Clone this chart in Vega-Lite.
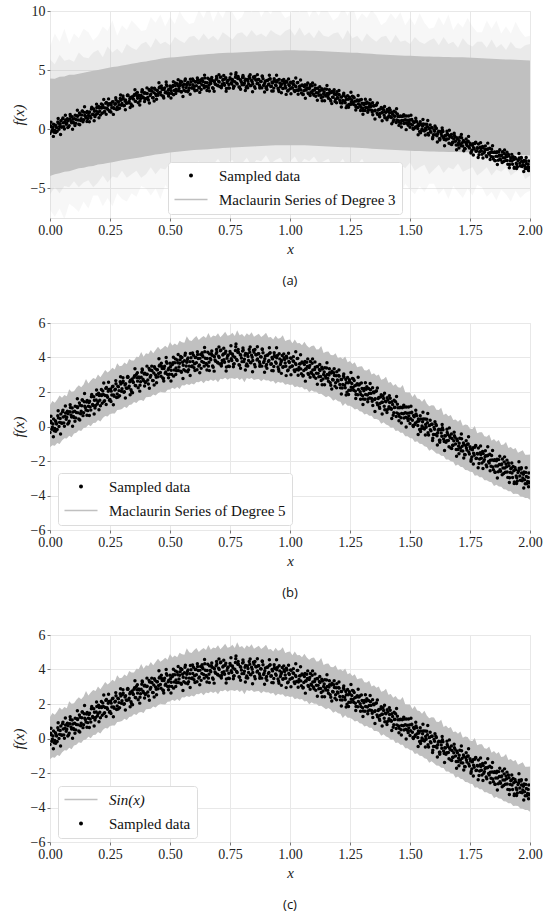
{
  "$schema": "https://vega.github.io/schema/vega-lite/v6.json",
  "background": "white",
  "padding": {"left": 10, "top": 3, "right": 10, "bottom": 5},
  "spacing": 26,
  "config": {
    "font": "Liberation Serif",
    "view": {"stroke": "#e3e3e3"},
    "style": {
      "guide-label": {"font": "Liberation Serif"},
      "guide-title": {"font": "Liberation Serif"}
    },
    "axis": {
      "gridColor": "#e8e8e8", "domain": false, "tickColor": "#777", "tickSize": 3,
      "labelFont": "Liberation Serif", "labelFontSize": 14, "labelColor": "#222",
      "labelFlush": false,
      "titleFont": "Liberation Serif", "titleFontSize": 15, "titleFontStyle": "italic",
      "titleFontWeight": "normal", "titleColor": "#222"
    },
    "title": {"font": "Open Sans", "fontSize": 13, "fontWeight": "normal", "orient": "bottom", "offset": 19, "color": "#111"},
    "legend": {
      "orient": "none", "fillColor": "white", "strokeColor": "#dcdcdc", "cornerRadius": 3,
      "padding": 6, "labelFont": "Liberation Serif", "labelFontSize": 15, "labelColor": "#111",
      "labelLimit": 400, "rowPadding": 8, "labelOffset": 20.5, "symbolOffset": 9.5,
      "symbolSize": 16, "symbolStrokeWidth": 0, "title": null
    }
  },
  "datasets": {
    "pts": [
      {"x":0.000,"y":-0.35},{"x":0.005,"y":0.22},{"x":0.010,"y":-0.04},{"x":0.015,"y":0.43},{"x":0.020,"y":-0.11},
      {"x":0.025,"y":0.25},{"x":0.030,"y":-0.17},{"x":0.035,"y":0.50},{"x":0.040,"y":0.24},{"x":0.045,"y":0.73},
      {"x":0.050,"y":0.19},{"x":0.055,"y":0.55},{"x":0.060,"y":0.02},{"x":0.065,"y":0.78},{"x":0.070,"y":0.53},
      {"x":0.075,"y":0.74},{"x":0.080,"y":0.31},{"x":0.085,"y":1.10},{"x":0.090,"y":0.55},{"x":0.095,"y":0.84},
      {"x":0.100,"y":0.52},{"x":0.105,"y":1.18},{"x":0.110,"y":0.81},{"x":0.115,"y":1.10},{"x":0.120,"y":0.43},
      {"x":0.125,"y":1.23},{"x":0.130,"y":0.89},{"x":0.135,"y":1.54},{"x":0.140,"y":0.80},{"x":0.145,"y":1.17},
      {"x":0.150,"y":0.96},{"x":0.155,"y":1.51},{"x":0.160,"y":1.17},{"x":0.165,"y":1.46},{"x":0.170,"y":0.95},
      {"x":0.175,"y":1.77},{"x":0.180,"y":1.22},{"x":0.185,"y":1.52},{"x":0.190,"y":1.22},{"x":0.195,"y":1.85},
      {"x":0.200,"y":1.44},{"x":0.205,"y":1.80},{"x":0.210,"y":1.20},{"x":0.215,"y":1.80},{"x":0.220,"y":2.06},
      {"x":0.225,"y":1.45},{"x":0.230,"y":1.80},{"x":0.235,"y":2.26},{"x":0.240,"y":1.70},{"x":0.245,"y":2.15},
      {"x":0.250,"y":1.56},{"x":0.255,"y":2.05},{"x":0.260,"y":2.30},{"x":0.265,"y":1.82},{"x":0.270,"y":2.11},
      {"x":0.275,"y":2.48},{"x":0.280,"y":1.89},{"x":0.285,"y":2.31},{"x":0.290,"y":1.78},{"x":0.295,"y":2.46},
      {"x":0.300,"y":2.19},{"x":0.305,"y":2.63},{"x":0.310,"y":2.02},{"x":0.315,"y":2.48},{"x":0.320,"y":2.21},
      {"x":0.325,"y":2.86},{"x":0.330,"y":2.34},{"x":0.335,"y":2.68},{"x":0.340,"y":2.02},{"x":0.345,"y":2.61},
      {"x":0.350,"y":2.86},{"x":0.355,"y":2.38},{"x":0.360,"y":3.02},{"x":0.365,"y":2.63},{"x":0.370,"y":2.87},
      {"x":0.375,"y":2.39},{"x":0.380,"y":2.85},{"x":0.385,"y":3.28},{"x":0.390,"y":2.65},{"x":0.395,"y":3.09},
      {"x":0.400,"y":2.60},{"x":0.405,"y":3.03},{"x":0.410,"y":2.47},{"x":0.415,"y":3.27},{"x":0.420,"y":2.96},
      {"x":0.425,"y":3.23},{"x":0.430,"y":2.66},{"x":0.435,"y":3.47},{"x":0.440,"y":2.98},{"x":0.445,"y":3.29},
      {"x":0.450,"y":2.88},{"x":0.455,"y":3.51},{"x":0.460,"y":3.13},{"x":0.465,"y":3.48},{"x":0.470,"y":2.81},
      {"x":0.475,"y":3.36},{"x":0.480,"y":3.09},{"x":0.485,"y":3.76},{"x":0.490,"y":3.02},{"x":0.495,"y":3.38},
      {"x":0.500,"y":3.67},{"x":0.505,"y":3.26},{"x":0.510,"y":3.60},{"x":0.515,"y":2.92},{"x":0.520,"y":3.69},
      {"x":0.525,"y":3.39},{"x":0.530,"y":3.86},{"x":0.535,"y":3.25},{"x":0.540,"y":3.67},{"x":0.545,"y":3.20},
      {"x":0.550,"y":4.00},{"x":0.555,"y":3.55},{"x":0.560,"y":3.81},{"x":0.565,"y":3.22},{"x":0.570,"y":3.72},
      {"x":0.575,"y":3.97},{"x":0.580,"y":3.50},{"x":0.585,"y":4.23},{"x":0.590,"y":3.48},{"x":0.595,"y":3.77},
      {"x":0.600,"y":3.40},{"x":0.605,"y":4.00},{"x":0.610,"y":3.69},{"x":0.615,"y":4.17},{"x":0.620,"y":3.50},
      {"x":0.625,"y":3.95},{"x":0.630,"y":3.37},{"x":0.635,"y":4.11},{"x":0.640,"y":3.71},{"x":0.645,"y":4.33},
      {"x":0.650,"y":3.65},{"x":0.655,"y":3.94},{"x":0.660,"y":3.50},{"x":0.665,"y":4.21},{"x":0.670,"y":3.87},
      {"x":0.675,"y":4.13},{"x":0.680,"y":3.44},{"x":0.685,"y":4.04},{"x":0.690,"y":3.78},{"x":0.695,"y":4.31},
      {"x":0.700,"y":3.68},{"x":0.705,"y":4.00},{"x":0.710,"y":4.39},{"x":0.715,"y":3.65},{"x":0.720,"y":4.15},
      {"x":0.725,"y":3.87},{"x":0.730,"y":4.25},{"x":0.735,"y":3.45},{"x":0.740,"y":4.09},{"x":0.745,"y":3.78},
      {"x":0.750,"y":4.35},{"x":0.755,"y":3.93},{"x":0.760,"y":4.20},{"x":0.765,"y":3.61},{"x":0.770,"y":4.02},
      {"x":0.775,"y":4.78},{"x":0.780,"y":3.82},{"x":0.785,"y":4.31},{"x":0.790,"y":3.55},{"x":0.795,"y":4.13},
      {"x":0.800,"y":3.76},{"x":0.805,"y":4.42},{"x":0.810,"y":3.90},{"x":0.815,"y":4.24},{"x":0.820,"y":3.63},
      {"x":0.825,"y":4.06},{"x":0.830,"y":4.46},{"x":0.835,"y":3.71},{"x":0.840,"y":4.13},{"x":0.845,"y":3.83},
      {"x":0.850,"y":4.31},{"x":0.855,"y":3.46},{"x":0.860,"y":4.16},{"x":0.865,"y":3.91},{"x":0.870,"y":4.22},
      {"x":0.875,"y":3.62},{"x":0.880,"y":4.03},{"x":0.885,"y":4.46},{"x":0.890,"y":3.71},{"x":0.895,"y":3.93},
      {"x":0.900,"y":3.49},{"x":0.905,"y":4.13},{"x":0.910,"y":3.77},{"x":0.915,"y":4.24},{"x":0.920,"y":3.61},
      {"x":0.925,"y":4.00},{"x":0.930,"y":3.23},{"x":0.935,"y":4.12},{"x":0.940,"y":3.74},{"x":0.945,"y":3.99},
      {"x":0.950,"y":3.45},{"x":0.955,"y":4.22},{"x":0.960,"y":3.60},{"x":0.965,"y":3.82},{"x":0.970,"y":3.44},
      {"x":0.975,"y":3.98},{"x":0.980,"y":3.68},{"x":0.985,"y":4.07},{"x":0.990,"y":3.23},{"x":0.995,"y":3.77},
      {"x":1.000,"y":3.43},{"x":1.005,"y":3.95},{"x":1.010,"y":3.51},{"x":1.015,"y":3.78},{"x":1.020,"y":3.19},
      {"x":1.025,"y":3.60},{"x":1.030,"y":3.94},{"x":1.035,"y":3.28},{"x":1.040,"y":3.63},{"x":1.045,"y":3.34},
      {"x":1.050,"y":3.74},{"x":1.055,"y":2.96},{"x":1.060,"y":3.59},{"x":1.065,"y":3.34},{"x":1.070,"y":3.73},
      {"x":1.075,"y":3.07},{"x":1.080,"y":3.42},{"x":1.085,"y":3.77},{"x":1.090,"y":3.09},{"x":1.095,"y":3.28},
      {"x":1.100,"y":2.88},{"x":1.105,"y":3.44},{"x":1.110,"y":3.09},{"x":1.115,"y":3.48},{"x":1.120,"y":2.88},
      {"x":1.125,"y":3.24},{"x":1.130,"y":2.67},{"x":1.135,"y":3.33},{"x":1.140,"y":3.01},{"x":1.145,"y":3.41},
      {"x":1.150,"y":2.81},{"x":1.155,"y":3.02},{"x":1.160,"y":2.62},{"x":1.165,"y":3.11},{"x":1.170,"y":2.39},
      {"x":1.175,"y":3.20},{"x":1.180,"y":2.70},{"x":1.185,"y":2.96},{"x":1.190,"y":2.54},{"x":1.195,"y":3.17},
      {"x":1.200,"y":2.63},{"x":1.205,"y":2.92},{"x":1.210,"y":2.24},{"x":1.215,"y":2.72},{"x":1.220,"y":2.43},
      {"x":1.225,"y":2.85},{"x":1.230,"y":2.25},{"x":1.235,"y":2.53},{"x":1.240,"y":2.84},{"x":1.245,"y":2.10},
      {"x":1.250,"y":2.58},{"x":1.255,"y":2.28},{"x":1.260,"y":2.79},{"x":1.265,"y":2.10},{"x":1.270,"y":2.36},
      {"x":1.275,"y":1.86},{"x":1.280,"y":2.48},{"x":1.285,"y":2.14},{"x":1.290,"y":2.47},{"x":1.295,"y":1.86},
      {"x":1.300,"y":2.20},{"x":1.305,"y":1.59},{"x":1.310,"y":2.21},{"x":1.315,"y":1.85},{"x":1.320,"y":2.31},
      {"x":1.325,"y":1.60},{"x":1.330,"y":1.92},{"x":1.335,"y":2.13},{"x":1.340,"y":1.62},{"x":1.345,"y":1.22},
      {"x":1.350,"y":1.96},{"x":1.355,"y":1.61},{"x":1.360,"y":2.06},{"x":1.365,"y":1.26},{"x":1.370,"y":1.68},
      {"x":1.375,"y":1.34},{"x":1.380,"y":1.84},{"x":1.385,"y":1.41},{"x":1.390,"y":1.62},{"x":1.395,"y":0.97},
      {"x":1.400,"y":1.43},{"x":1.405,"y":1.67},{"x":1.410,"y":1.01},{"x":1.415,"y":1.39},{"x":1.420,"y":1.06},
      {"x":1.425,"y":1.44},{"x":1.430,"y":0.65},{"x":1.435,"y":1.10},{"x":1.440,"y":1.43},{"x":1.445,"y":0.79},
      {"x":1.450,"y":1.09},{"x":1.455,"y":0.60},{"x":1.460,"y":1.12},{"x":1.465,"y":0.75},{"x":1.470,"y":1.13},
      {"x":1.475,"y":0.49},{"x":1.480,"y":0.80},{"x":1.485,"y":1.13},{"x":1.490,"y":0.46},{"x":1.495,"y":0.61},
      {"x":1.500,"y":0.18},{"x":1.505,"y":0.79},{"x":1.510,"y":0.36},{"x":1.515,"y":0.64},{"x":1.520,"y":0.11},
      {"x":1.525,"y":0.73},{"x":1.530,"y":0.28},{"x":1.535,"y":0.44},{"x":1.540,"y":-0.18},{"x":1.545,"y":0.43},
      {"x":1.550,"y":0.03},{"x":1.555,"y":0.44},{"x":1.560,"y":-0.15},{"x":1.565,"y":0.11},{"x":1.570,"y":0.42},
      {"x":1.575,"y":-0.36},{"x":1.580,"y":0.05},{"x":1.585,"y":-0.19},{"x":1.590,"y":0.13},{"x":1.595,"y":-0.68},
      {"x":1.600,"y":-0.05},{"x":1.605,"y":-0.47},{"x":1.610,"y":0.06},{"x":1.615,"y":-0.38},{"x":1.620,"y":-0.16},
      {"x":1.625,"y":-0.79},{"x":1.630,"y":-0.37},{"x":1.635,"y":-0.07},{"x":1.640,"y":-0.72},{"x":1.645,"y":-0.54},
      {"x":1.650,"y":-0.91},{"x":1.655,"y":-0.35},{"x":1.660,"y":-0.81},{"x":1.665,"y":-0.55},{"x":1.670,"y":-1.24},
      {"x":1.675,"y":-0.69},{"x":1.680,"y":-1.09},{"x":1.685,"y":-0.53},{"x":1.690,"y":-1.01},{"x":1.695,"y":-0.72},
      {"x":1.700,"y":-1.33},{"x":1.705,"y":-0.97},{"x":1.710,"y":-1.24},{"x":1.715,"y":-0.71},{"x":1.720,"y":-1.42},
      {"x":1.725,"y":-1.04},{"x":1.730,"y":-1.64},{"x":1.735,"y":-1.25},{"x":1.740,"y":-1.03},{"x":1.745,"y":-1.48},
      {"x":1.750,"y":-1.18},{"x":1.755,"y":-1.91},{"x":1.760,"y":-1.35},{"x":1.765,"y":-1.55},{"x":1.770,"y":-1.20},
      {"x":1.775,"y":-1.85},{"x":1.780,"y":-1.56},{"x":1.785,"y":-1.25},{"x":1.790,"y":-1.89},{"x":1.795,"y":-1.62},
      {"x":1.800,"y":-2.12},{"x":1.805,"y":-1.57},{"x":1.810,"y":-1.92},{"x":1.815,"y":-1.70},{"x":1.820,"y":-2.33},
      {"x":1.825,"y":-1.66},{"x":1.830,"y":-2.11},{"x":1.835,"y":-1.96},{"x":1.840,"y":-1.68},{"x":1.845,"y":-2.35},
      {"x":1.850,"y":-1.97},{"x":1.855,"y":-2.65},{"x":1.860,"y":-1.98},{"x":1.865,"y":-2.29},{"x":1.870,"y":-1.92},
      {"x":1.875,"y":-2.50},{"x":1.880,"y":-2.22},{"x":1.885,"y":-1.89},{"x":1.890,"y":-2.72},{"x":1.895,"y":-2.40},
      {"x":1.900,"y":-2.18},{"x":1.905,"y":-2.64},{"x":1.910,"y":-2.12},{"x":1.915,"y":-2.97},{"x":1.920,"y":-2.45},
      {"x":1.925,"y":-2.69},{"x":1.930,"y":-2.32},{"x":1.935,"y":-3.21},{"x":1.940,"y":-2.50},{"x":1.945,"y":-2.97},
      {"x":1.950,"y":-2.67},{"x":1.955,"y":-2.42},{"x":1.960,"y":-3.11},{"x":1.965,"y":-2.70},{"x":1.970,"y":-2.99},
      {"x":1.975,"y":-2.64},{"x":1.980,"y":-3.32},{"x":1.985,"y":-2.90},{"x":1.990,"y":-3.19},{"x":1.995,"y":-2.69},
      {"x":2.000,"y":-3.21},
      {"x":0.0025,"y":0.30},{"x":0.0075,"y":-0.16},{"x":0.0125,"y":0.15},{"x":0.0175,"y":-0.25},{"x":0.0225,"y":0.34},
      {"x":0.0275,"y":0.14},{"x":0.0325,"y":0.62},{"x":0.0375,"y":0.00},{"x":0.0425,"y":0.46},{"x":0.0475,"y":0.20},
      {"x":0.0525,"y":0.86},{"x":0.0575,"y":0.21},{"x":0.0625,"y":0.59},{"x":0.0675,"y":0.42},{"x":0.0725,"y":0.89},
      {"x":0.0775,"y":0.21},{"x":0.0825,"y":0.86},{"x":0.0875,"y":0.67},{"x":0.0925,"y":1.07},{"x":0.0975,"y":0.58},
      {"x":0.1025,"y":0.89},{"x":0.1075,"y":0.50},{"x":0.1125,"y":1.15},{"x":0.1175,"y":0.79},{"x":0.1225,"y":1.37},
      {"x":0.1275,"y":0.74},{"x":0.1325,"y":1.20},{"x":0.1375,"y":0.63},{"x":0.1425,"y":1.43},{"x":0.1475,"y":1.10},
      {"x":0.1525,"y":1.42},{"x":0.1575,"y":0.92},{"x":0.1625,"y":1.39},{"x":0.1675,"y":1.13},{"x":0.1725,"y":1.72},
      {"x":0.1775,"y":1.27},{"x":0.1825,"y":1.72},{"x":0.1875,"y":1.07},{"x":0.1925,"y":1.54},{"x":0.1975,"y":1.31},
      {"x":0.2025,"y":1.93},{"x":0.2075,"y":1.52},{"x":0.2125,"y":1.84},{"x":0.2175,"y":1.35},{"x":0.2225,"y":1.85},
      {"x":0.2275,"y":1.50},{"x":0.2325,"y":2.21},{"x":0.2375,"y":1.78},{"x":0.2425,"y":2.04},{"x":0.2475,"y":1.52},
      {"x":0.2525,"y":2.18},{"x":0.2575,"y":1.82},{"x":0.2625,"y":2.33},{"x":0.2675,"y":1.75},{"x":0.2725,"y":2.16},
      {"x":0.2775,"y":1.68},{"x":0.2825,"y":2.33},{"x":0.2875,"y":2.08},{"x":0.2925,"y":2.60},{"x":0.2975,"y":2.04},
      {"x":0.3025,"y":2.55},{"x":0.3075,"y":1.98},{"x":0.3125,"y":2.40},{"x":0.3175,"y":2.24},{"x":0.3225,"y":2.86},
      {"x":0.3275,"y":2.25},{"x":0.3325,"y":2.59},{"x":0.3375,"y":2.13},{"x":0.3425,"y":2.76},{"x":0.3475,"y":2.55},
      {"x":0.3525,"y":2.94},{"x":0.3575,"y":2.36},{"x":0.3625,"y":2.82},{"x":0.3675,"y":2.25},{"x":0.3725,"y":2.81},
      {"x":0.3775,"y":2.60},{"x":0.3825,"y":3.15},{"x":0.3875,"y":2.74},{"x":0.3925,"y":3.04},{"x":0.3975,"y":2.55},
      {"x":0.4025,"y":3.02},{"x":0.4075,"y":2.69},{"x":0.4125,"y":3.37},{"x":0.4175,"y":2.86},{"x":0.4225,"y":3.26},
      {"x":0.4275,"y":2.67},{"x":0.4325,"y":3.10},{"x":0.4375,"y":3.38},{"x":0.4425,"y":2.86},{"x":0.4475,"y":3.29},
      {"x":0.4525,"y":3.07},{"x":0.4575,"y":3.57},{"x":0.4625,"y":2.91},{"x":0.4675,"y":3.36},{"x":0.4725,"y":2.78},
      {"x":0.4775,"y":3.49},{"x":0.4825,"y":3.16},{"x":0.4875,"y":3.66},{"x":0.4925,"y":3.29},{"x":0.4975,"y":3.03},
      {"x":0.5025,"y":3.48},{"x":0.5075,"y":3.02},{"x":0.5125,"y":3.70},{"x":0.5175,"y":3.27},{"x":0.5225,"y":3.92},
      {"x":0.5275,"y":3.23},{"x":0.5325,"y":3.69},{"x":0.5375,"y":3.45},{"x":0.5425,"y":3.87},{"x":0.5475,"y":3.15},
      {"x":0.5525,"y":3.73},{"x":0.5575,"y":3.29},{"x":0.5625,"y":4.13},{"x":0.5675,"y":3.51},{"x":0.5725,"y":3.88},
      {"x":0.5775,"y":3.29},{"x":0.5825,"y":3.76},{"x":0.5875,"y":3.99},{"x":0.5925,"y":3.51},{"x":0.5975,"y":4.13},
      {"x":0.6025,"y":3.64},{"x":0.6075,"y":4.02},{"x":0.6125,"y":3.29},{"x":0.6175,"y":3.94},{"x":0.6225,"y":3.56},
      {"x":0.6275,"y":4.17},{"x":0.6325,"y":3.77},{"x":0.6375,"y":4.04},{"x":0.6425,"y":3.50},{"x":0.6475,"y":3.96},
      {"x":0.6525,"y":3.59},{"x":0.6575,"y":4.31},{"x":0.6625,"y":3.73},{"x":0.6675,"y":3.95},{"x":0.6725,"y":4.22},
      {"x":0.6775,"y":3.51},{"x":0.6825,"y":4.09},{"x":0.6875,"y":3.85},{"x":0.6925,"y":4.22},{"x":0.6975,"y":3.73},
      {"x":0.7025,"y":4.07},{"x":0.7075,"y":3.62},{"x":0.7125,"y":4.43},{"x":0.7175,"y":3.83},{"x":0.7225,"y":4.20},
      {"x":0.7275,"y":3.72},{"x":0.7325,"y":4.36},{"x":0.7375,"y":3.95},{"x":0.7425,"y":4.15},{"x":0.7475,"y":3.48},
      {"x":0.7525,"y":4.24},{"x":0.7575,"y":3.82},{"x":0.7625,"y":4.09},{"x":0.7675,"y":3.64},{"x":0.7725,"y":4.40},
      {"x":0.7775,"y":3.89},{"x":0.7825,"y":4.30},{"x":0.7875,"y":3.58},{"x":0.7925,"y":4.18},{"x":0.7975,"y":3.97},
      {"x":0.8025,"y":4.37},{"x":0.8075,"y":3.76},{"x":0.8125,"y":4.13},{"x":0.8175,"y":3.52},{"x":0.8225,"y":4.21},
      {"x":0.8275,"y":3.83},{"x":0.8325,"y":4.31},{"x":0.8375,"y":3.69},{"x":0.8425,"y":4.02},{"x":0.8475,"y":4.42},
      {"x":0.8525,"y":3.59},{"x":0.8575,"y":4.16},{"x":0.8625,"y":3.86},{"x":0.8675,"y":4.22},{"x":0.8725,"y":3.75},
      {"x":0.8775,"y":4.05},{"x":0.8825,"y":3.50},{"x":0.8875,"y":4.27},{"x":0.8925,"y":3.79},{"x":0.8975,"y":4.09},
      {"x":0.9025,"y":3.60},{"x":0.9075,"y":4.15},{"x":0.9125,"y":3.82},{"x":0.9175,"y":4.28},{"x":0.9225,"y":3.64},
      {"x":0.9275,"y":3.92},{"x":0.9325,"y":3.48},{"x":0.9375,"y":4.05},{"x":0.9425,"y":3.67},{"x":0.9475,"y":4.12},
      {"x":0.9525,"y":3.32},{"x":0.9575,"y":3.92},{"x":0.9625,"y":3.73},{"x":0.9675,"y":4.12},{"x":0.9725,"y":3.46},
      {"x":0.9775,"y":3.88},{"x":0.9825,"y":3.49},{"x":0.9875,"y":3.97},{"x":0.9925,"y":3.27},{"x":0.9975,"y":3.71},
      {"x":1.0025,"y":3.97},{"x":1.0075,"y":3.49},{"x":1.0125,"y":3.80},{"x":1.0175,"y":3.27},{"x":1.0225,"y":3.66},
      {"x":1.0275,"y":3.30},{"x":1.0325,"y":3.95},{"x":1.0375,"y":3.42},{"x":1.0425,"y":3.64},{"x":1.0475,"y":3.06},
      {"x":1.0525,"y":3.70},{"x":1.0575,"y":3.25},{"x":1.0625,"y":3.77},{"x":1.0675,"y":3.33},{"x":1.0725,"y":3.48},
      {"x":1.0775,"y":3.01},{"x":1.0825,"y":3.54},{"x":1.0875,"y":3.15},{"x":1.0925,"y":3.67},{"x":1.0975,"y":2.99},
      {"x":1.1025,"y":3.31},{"x":1.1075,"y":2.79},{"x":1.1125,"y":3.46},{"x":1.1175,"y":3.08},{"x":1.1225,"y":3.31},
      {"x":1.1275,"y":2.90},{"x":1.1325,"y":3.43},{"x":1.1375,"y":2.75},{"x":1.1425,"y":3.16},{"x":1.1475,"y":2.91},
      {"x":1.1525,"y":3.39},{"x":1.1575,"y":2.79},{"x":1.1625,"y":2.99},{"x":1.1675,"y":2.53},{"x":1.1725,"y":3.10},
      {"x":1.1775,"y":2.72},{"x":1.1825,"y":3.12},{"x":1.1875,"y":2.34},{"x":1.1925,"y":2.94},{"x":1.1975,"y":2.69},
      {"x":1.2025,"y":2.96},{"x":1.2075,"y":2.43},{"x":1.2125,"y":2.73},{"x":1.2175,"y":2.23},{"x":1.2225,"y":2.93},
      {"x":1.2275,"y":2.39},{"x":1.2325,"y":2.72},{"x":1.2375,"y":1.99},{"x":1.2425,"y":2.53},{"x":1.2475,"y":2.71},
      {"x":1.2525,"y":2.10},{"x":1.2575,"y":2.49},{"x":1.2625,"y":2.26},{"x":1.2675,"y":2.67},{"x":1.2725,"y":2.04},
      {"x":1.2775,"y":2.40},{"x":1.2825,"y":1.84},{"x":1.2875,"y":2.40},{"x":1.2925,"y":2.01},{"x":1.2975,"y":2.52},
      {"x":1.3025,"y":1.78},{"x":1.3075,"y":2.07},{"x":1.3125,"y":1.58},{"x":1.3175,"y":2.16},{"x":1.3225,"y":1.83},
      {"x":1.3275,"y":2.20},{"x":1.3325,"y":1.65},{"x":1.3375,"y":1.92},{"x":1.3425,"y":1.46},{"x":1.3475,"y":2.00},
      {"x":1.3525,"y":1.56},{"x":1.3575,"y":2.04},{"x":1.3625,"y":1.37},{"x":1.3675,"y":1.62},{"x":1.3725,"y":1.13},
      {"x":1.3775,"y":1.71},{"x":1.3825,"y":1.40},{"x":1.3875,"y":1.78},{"x":1.3925,"y":1.18},{"x":1.3975,"y":1.46},
      {"x":1.4025,"y":0.96},{"x":1.4075,"y":1.53},{"x":1.4125,"y":1.15},{"x":1.4175,"y":1.64},{"x":1.4225,"y":1.00},
      {"x":1.4275,"y":1.28},{"x":1.4325,"y":0.80},{"x":1.4375,"y":1.12},{"x":1.4425,"y":0.58},{"x":1.4475,"y":1.29},
      {"x":1.4525,"y":0.73},{"x":1.4575,"y":1.08},{"x":1.4625,"y":0.51},{"x":1.4675,"y":1.08},{"x":1.4725,"y":0.74},
      {"x":1.4775,"y":1.13},{"x":1.4825,"y":0.54},{"x":1.4875,"y":0.77},{"x":1.4925,"y":0.34},{"x":1.4975,"y":0.79},
      {"x":1.5025,"y":0.45},{"x":1.5075,"y":0.83},{"x":1.5125,"y":0.06},{"x":1.5175,"y":0.57},{"x":1.5225,"y":0.20},
      {"x":1.5275,"y":0.63},{"x":1.5325,"y":0.06},{"x":1.5375,"y":0.32},{"x":1.5425,"y":0.63},{"x":1.5475,"y":-0.13},
      {"x":1.5525,"y":0.27},{"x":1.5575,"y":-0.07},{"x":1.5625,"y":0.43},{"x":1.5675,"y":-0.04},{"x":1.5725,"y":0.22},
      {"x":1.5775,"y":-0.49},{"x":1.5825,"y":0.08},{"x":1.5875,"y":-0.25},{"x":1.5925,"y":0.13},{"x":1.5975,"y":-0.47},
      {"x":1.6025,"y":-0.16},{"x":1.6075,"y":0.13},{"x":1.6125,"y":-0.54},{"x":1.6175,"y":-0.22},{"x":1.6225,"y":-0.79},
      {"x":1.6275,"y":-0.19},{"x":1.6325,"y":-0.57},{"x":1.6375,"y":-0.19},{"x":1.6425,"y":-0.87},{"x":1.6475,"y":-0.55},
      {"x":1.6525,"y":-0.82},{"x":1.6575,"y":-0.47},{"x":1.6625,"y":-1.18},{"x":1.6675,"y":-0.64},{"x":1.6725,"y":-0.44},
      {"x":1.6775,"y":-1.09},{"x":1.6825,"y":-0.82},{"x":1.6875,"y":-0.62},{"x":1.6925,"y":-1.33},{"x":1.6975,"y":-0.82},
      {"x":1.7025,"y":-1.15},{"x":1.7075,"y":-0.68},{"x":1.7125,"y":-1.40},{"x":1.7175,"y":-1.14},{"x":1.7225,"y":-0.95},
      {"x":1.7275,"y":-1.62},{"x":1.7325,"y":-1.11},{"x":1.7375,"y":-1.37},{"x":1.7425,"y":-1.02},{"x":1.7475,"y":-1.59},
      {"x":1.7525,"y":-1.31},{"x":1.7575,"y":-1.77},{"x":1.7625,"y":-1.23},{"x":1.7675,"y":-1.67},{"x":1.7725,"y":-1.13},
      {"x":1.7775,"y":-1.84},{"x":1.7825,"y":-1.60},{"x":1.7875,"y":-2.15},{"x":1.7925,"y":-1.52},{"x":1.7975,"y":-1.84},
      {"x":1.8025,"y":-1.45},{"x":1.8075,"y":-2.01},{"x":1.8125,"y":-1.76},{"x":1.8175,"y":-2.23},{"x":1.8225,"y":-1.69},
      {"x":1.8275,"y":-2.03},{"x":1.8325,"y":-1.61},{"x":1.8375,"y":-2.30},{"x":1.8425,"y":-1.94},{"x":1.8475,"y":-2.51},
      {"x":1.8525,"y":-1.92},{"x":1.8575,"y":-2.29},{"x":1.8625,"y":-1.90},{"x":1.8675,"y":-2.62},{"x":1.8725,"y":-2.20},
      {"x":1.8775,"y":-2.60},{"x":1.8825,"y":-2.18},{"x":1.8875,"y":-2.41},{"x":1.8925,"y":-2.05},{"x":1.8975,"y":-2.65},
      {"x":1.9025,"y":-2.33},{"x":1.9075,"y":-2.95},{"x":1.9125,"y":-2.27},{"x":1.9175,"y":-2.66},{"x":1.9225,"y":-2.40},
      {"x":1.9275,"y":-2.96},{"x":1.9325,"y":-2.56},{"x":1.9375,"y":-2.38},{"x":1.9425,"y":-2.87},{"x":1.9475,"y":-3.16},
      {"x":1.9525,"y":-2.56},{"x":1.9575,"y":-2.87},{"x":1.9625,"y":-2.46},{"x":1.9675,"y":-3.14},{"x":1.9725,"y":-2.77},
      {"x":1.9775,"y":-3.09},{"x":1.9825,"y":-2.66},{"x":1.9875,"y":-3.32},{"x":1.9925,"y":-2.95},{"x":1.9975,"y":-3.26},
      {"x":0.004,"y":0.59},{"x":0.014,"y":-0.60},{"x":0.024,"y":-0.28},{"x":0.034,"y":0.91},{"x":0.044,"y":-0.44},
      {"x":0.054,"y":0.95},{"x":0.064,"y":1.19},{"x":0.074,"y":0.15},{"x":0.084,"y":1.26},{"x":0.094,"y":0.01},
      {"x":0.104,"y":0.31},{"x":0.114,"y":1.61},{"x":0.124,"y":0.38},{"x":0.134,"y":1.53},{"x":0.144,"y":1.91},
      {"x":0.154,"y":0.65},{"x":0.164,"y":0.64},{"x":0.174,"y":1.86},{"x":0.184,"y":0.72},{"x":0.194,"y":2.12},
      {"x":0.204,"y":0.97},{"x":0.214,"y":2.14},{"x":0.224,"y":2.52},{"x":0.234,"y":1.27},{"x":0.244,"y":2.57},
      {"x":0.254,"y":1.45},{"x":0.264,"y":1.26},{"x":0.274,"y":2.66},{"x":0.284,"y":1.71},{"x":0.294,"y":2.89},
      {"x":0.304,"y":2.82},{"x":0.314,"y":1.65},{"x":0.324,"y":2.90},{"x":0.334,"y":1.84},{"x":0.344,"y":1.96},
      {"x":0.354,"y":3.35},{"x":0.364,"y":3.12},{"x":0.374,"y":2.05},{"x":0.384,"y":3.34},{"x":0.394,"y":2.35},
      {"x":0.404,"y":3.50},{"x":0.414,"y":2.22},{"x":0.424,"y":3.50},{"x":0.434,"y":2.40},{"x":0.444,"y":2.54},
      {"x":0.454,"y":3.93},{"x":0.464,"y":3.67},{"x":0.474,"y":2.64},{"x":0.484,"y":4.00},{"x":0.494,"y":2.82},
      {"x":0.504,"y":2.64},{"x":0.514,"y":4.01},{"x":0.524,"y":3.02},{"x":0.534,"y":4.18},{"x":0.544,"y":4.06},
      {"x":0.554,"y":2.78},{"x":0.564,"y":4.25},{"x":0.574,"y":3.17},{"x":0.584,"y":2.96},{"x":0.594,"y":4.26},
      {"x":0.604,"y":3.25},{"x":0.614,"y":4.33},{"x":0.624,"y":3.12},{"x":0.634,"y":4.27},{"x":0.644,"y":4.58},
      {"x":0.654,"y":3.27},{"x":0.664,"y":3.24},{"x":0.674,"y":4.38},{"x":0.684,"y":3.21},{"x":0.694,"y":4.46},
      {"x":0.704,"y":4.61},{"x":0.714,"y":3.51},{"x":0.724,"y":4.54},{"x":0.734,"y":3.22},{"x":0.744,"y":3.49},
      {"x":0.754,"y":4.68},{"x":0.764,"y":3.46},{"x":0.774,"y":4.62},{"x":0.784,"y":4.47},{"x":0.794,"y":3.38},
      {"x":0.804,"y":4.55},{"x":0.814,"y":3.27},{"x":0.824,"y":3.51},{"x":0.834,"y":4.61},{"x":0.844,"y":3.17},
      {"x":0.854,"y":4.47},{"x":0.864,"y":4.62},{"x":0.874,"y":3.49},{"x":0.884,"y":4.50},{"x":0.894,"y":3.15},
      {"x":0.904,"y":3.37},{"x":0.914,"y":4.57},{"x":0.924,"y":3.24},{"x":0.934,"y":4.28},{"x":0.944,"y":4.57},
      {"x":0.954,"y":3.20},{"x":0.964,"y":3.08},{"x":0.974,"y":4.21},{"x":0.984,"y":2.95},{"x":0.994,"y":4.25},
      {"x":1.004,"y":3.00},{"x":1.014,"y":4.05},{"x":1.024,"y":4.33},{"x":1.034,"y":2.97},{"x":1.044,"y":4.16},
      {"x":1.054,"y":2.93},{"x":1.064,"y":2.63},{"x":1.074,"y":3.92},{"x":1.084,"y":2.85},{"x":1.094,"y":3.92},
      {"x":1.104,"y":3.74},{"x":1.114,"y":2.45},{"x":1.124,"y":3.59},{"x":1.134,"y":2.42},{"x":1.144,"y":2.42},
      {"x":1.154,"y":3.70},{"x":1.164,"y":3.35},{"x":1.174,"y":2.17},{"x":1.184,"y":3.35},{"x":1.194,"y":2.24},
      {"x":1.204,"y":3.27},{"x":1.214,"y":1.88},{"x":1.224,"y":3.04},{"x":1.234,"y":1.83},{"x":1.244,"y":1.86},
      {"x":1.254,"y":3.13},{"x":1.264,"y":2.76},{"x":1.274,"y":1.62},{"x":1.284,"y":2.86},{"x":1.294,"y":1.58},
      {"x":1.304,"y":1.28},{"x":1.314,"y":2.54},{"x":1.324,"y":1.44},{"x":1.334,"y":2.49},{"x":1.344,"y":2.25},
      {"x":1.354,"y":0.87},{"x":1.364,"y":2.23},{"x":1.374,"y":1.05},{"x":1.384,"y":0.73},{"x":1.394,"y":1.93},
      {"x":1.404,"y":0.81},{"x":1.414,"y":1.79},{"x":1.424,"y":0.47},{"x":1.434,"y":1.52},{"x":1.444,"y":1.74},
      {"x":1.454,"y":0.33},{"x":1.464,"y":0.20},{"x":1.474,"y":1.24},{"x":1.484,"y":-0.03},{"x":1.494,"y":1.13},
      {"x":1.504,"y":1.18},{"x":1.514,"y":0.00},{"x":1.524,"y":0.94},{"x":1.534,"y":-0.47},{"x":1.544,"y":-0.29},
      {"x":1.554,"y":0.82},{"x":1.564,"y":-0.49},{"x":1.574,"y":0.75},{"x":1.584,"y":0.36},{"x":1.594,"y":-0.81},
      {"x":1.604,"y":0.28},{"x":1.614,"y":-1.07},{"x":1.624,"y":-0.91},{"x":1.634,"y":0.12},{"x":1.644,"y":-1.39},
      {"x":1.654,"y":-0.16},{"x":1.664,"y":-0.08},{"x":1.674,"y":-1.28},{"x":1.684,"y":-0.33},{"x":1.694,"y":-1.73},
      {"x":1.704,"y":-1.58},{"x":1.714,"y":-0.44},{"x":1.724,"y":-1.82},{"x":1.734,"y":-0.83},{"x":1.744,"y":-0.60},
      {"x":1.754,"y":-2.01},{"x":1.764,"y":-2.17},{"x":1.774,"y":-1.10},{"x":1.784,"y":-2.39},{"x":1.794,"y":-1.13},
      {"x":1.804,"y":-2.43},{"x":1.814,"y":-1.41},{"x":1.824,"y":-1.17},{"x":1.834,"y":-2.56},{"x":1.844,"y":-1.39},
      {"x":1.854,"y":-2.65},{"x":1.864,"y":-2.98},{"x":1.874,"y":-1.72},{"x":1.884,"y":-2.80},{"x":1.894,"y":-1.76},
      {"x":1.904,"y":-1.95},{"x":1.914,"y":-3.25},{"x":1.924,"y":-2.12},{"x":1.934,"y":-3.30},{"x":1.944,"y":-3.31},
      {"x":1.954,"y":-2.04},{"x":1.964,"y":-2.39},{"x":1.974,"y":-3.57},{"x":1.984,"y":-2.39},{"x":1.994,"y":-3.49}
    ],
    "bandA": [
      {"x":0.00,"lo":-3.95,"hi":4.30,"alo":-5.5,"ahi":5.9,"blo":-6.8,"bhi":7.0},
      {"x":0.02,"lo":-3.80,"hi":4.28,"alo":-4.9,"ahi":5.5,"blo":-7.4,"bhi":8.1},
      {"x":0.04,"lo":-3.72,"hi":4.44,"alo":-5.4,"ahi":6.3,"blo":-6.7,"bhi":7.4},
      {"x":0.06,"lo":-3.58,"hi":4.46,"alo":-4.8,"ahi":5.8,"blo":-7.6,"bhi":8.5},
      {"x":0.08,"lo":-3.55,"hi":4.60,"alo":-4.9,"ahi":5.9,"blo":-6.3,"bhi":7.2},
      {"x":0.10,"lo":-3.42,"hi":4.62,"alo":-4.4,"ahi":5.7,"blo":-6.6,"bhi":8.1},
      {"x":0.12,"lo":-3.30,"hi":4.70,"alo":-4.9,"ahi":6.5,"blo":-7.0,"bhi":7.7},
      {"x":0.14,"lo":-3.26,"hi":4.78,"alo":-4.5,"ahi":6.1,"blo":-6.1,"bhi":8.5},
      {"x":0.16,"lo":-3.15,"hi":4.86,"alo":-4.3,"ahi":6.0,"blo":-6.7,"bhi":8.2},
      {"x":0.18,"lo":-3.10,"hi":4.95,"alo":-4.9,"ahi":6.5,"blo":-5.6,"bhi":7.5},
      {"x":0.20,"lo":-2.98,"hi":5.02,"alo":-4.5,"ahi":6.7,"blo":-5.6,"bhi":7.9},
      {"x":0.22,"lo":-2.94,"hi":5.10,"alo":-3.9,"ahi":6.1,"blo":-6.5,"bhi":8.7},
      {"x":0.24,"lo":-2.84,"hi":5.18,"alo":-4.5,"ahi":7.0,"blo":-5.8,"bhi":8.3},
      {"x":0.26,"lo":-2.78,"hi":5.26,"alo":-4.0,"ahi":6.5,"blo":-6.5,"bhi":9.2},
      {"x":0.28,"lo":-2.70,"hi":5.30,"alo":-4.1,"ahi":6.8,"blo":-5.4,"bhi":7.9},
      {"x":0.30,"lo":-2.62,"hi":5.40,"alo":-3.5,"ahi":6.4,"blo":-5.9,"bhi":8.8},
      {"x":0.32,"lo":-2.56,"hi":5.46,"alo":-4.1,"ahi":7.2,"blo":-6.1,"bhi":8.4},
      {"x":0.34,"lo":-2.50,"hi":5.54,"alo":-3.8,"ahi":6.9,"blo":-5.4,"bhi":9.2},
      {"x":0.36,"lo":-2.42,"hi":5.60,"alo":-3.5,"ahi":6.7,"blo":-5.7,"bhi":8.8},
      {"x":0.38,"lo":-2.36,"hi":5.68,"alo":-4.1,"ahi":7.2,"blo":-4.8,"bhi":8.3},
      {"x":0.40,"lo":-2.28,"hi":5.74,"alo":-3.8,"ahi":7.4,"blo":-5.0,"bhi":8.4},
      {"x":0.42,"lo":-2.22,"hi":5.82,"alo":-3.2,"ahi":6.9,"blo":-5.6,"bhi":9.5},
      {"x":0.44,"lo":-2.14,"hi":5.88,"alo":-3.8,"ahi":7.7,"blo":-5.0,"bhi":9.0},
      {"x":0.46,"lo":-2.08,"hi":5.96,"alo":-3.3,"ahi":7.2,"blo":-5.9,"bhi":9.7},
      {"x":0.48,"lo":-2.02,"hi":6.02,"alo":-3.4,"ahi":7.4,"blo":-4.7,"bhi":8.7},
      {"x":0.50,"lo":-1.96,"hi":6.06,"alo":-2.9,"ahi":7.1,"blo":-5.2,"bhi":9.5},
      {"x":0.52,"lo":-1.92,"hi":6.10,"alo":-3.5,"ahi":7.8,"blo":-5.5,"bhi":8.9},
      {"x":0.54,"lo":-1.88,"hi":6.14,"alo":-3.2,"ahi":7.5,"blo":-4.8,"bhi":10.0},
      {"x":0.56,"lo":-1.84,"hi":6.18,"alo":-2.9,"ahi":7.3,"blo":-5.1,"bhi":9.3},
      {"x":0.58,"lo":-1.80,"hi":6.22,"alo":-3.6,"ahi":7.8,"blo":-4.4,"bhi":8.9},
      {"x":0.60,"lo":-1.76,"hi":6.26,"alo":-3.2,"ahi":7.9,"blo":-4.3,"bhi":9.0},
      {"x":0.62,"lo":-1.74,"hi":6.30,"alo":-2.7,"ahi":7.5,"blo":-5.2,"bhi":10.1},
      {"x":0.64,"lo":-1.70,"hi":6.32,"alo":-3.4,"ahi":8.1,"blo":-4.6,"bhi":9.4},
      {"x":0.66,"lo":-1.68,"hi":6.36,"alo":-2.8,"ahi":7.6,"blo":-5.3,"bhi":10.4},
      {"x":0.68,"lo":-1.64,"hi":6.38,"alo":-3.0,"ahi":7.9,"blo":-4.4,"bhi":9.1},
      {"x":0.70,"lo":-1.62,"hi":6.42,"alo":-2.5,"ahi":7.5,"blo":-4.6,"bhi":10.0},
      {"x":0.72,"lo":-1.58,"hi":6.44,"alo":-3.1,"ahi":8.2,"blo":-5.2,"bhi":9.4},
      {"x":0.74,"lo":-1.56,"hi":6.46,"alo":-2.8,"ahi":7.9,"blo":-4.3,"bhi":10.4},
      {"x":0.76,"lo":-1.54,"hi":6.48,"alo":-2.6,"ahi":7.6,"blo":-4.7,"bhi":9.9},
      {"x":0.78,"lo":-1.52,"hi":6.50,"alo":-3.3,"ahi":8.1,"blo":-4.1,"bhi":9.2},
      {"x":0.80,"lo":-1.50,"hi":6.52,"alo":-2.9,"ahi":8.2,"blo":-4.0,"bhi":9.5},
      {"x":0.82,"lo":-1.48,"hi":6.54,"alo":-2.4,"ahi":7.8,"blo":-4.9,"bhi":10.4},
      {"x":0.84,"lo":-1.46,"hi":6.56,"alo":-3.1,"ahi":8.4,"blo":-4.2,"bhi":9.9},
      {"x":0.86,"lo":-1.44,"hi":6.58,"alo":-2.6,"ahi":7.9,"blo":-5.1,"bhi":10.6},
      {"x":0.88,"lo":-1.42,"hi":6.60,"alo":-2.7,"ahi":8.1,"blo":-4.0,"bhi":9.5},
      {"x":0.90,"lo":-1.40,"hi":6.62,"alo":-2.2,"ahi":7.8,"blo":-4.5,"bhi":10.2},
      {"x":0.92,"lo":-1.38,"hi":6.64,"alo":-2.9,"ahi":8.4,"blo":-4.8,"bhi":9.7},
      {"x":0.94,"lo":-1.36,"hi":6.66,"alo":-2.6,"ahi":8.1,"blo":-4.1,"bhi":10.6},
      {"x":0.96,"lo":-1.35,"hi":6.67,"alo":-2.4,"ahi":7.9,"blo":-4.6,"bhi":10.0},
      {"x":0.98,"lo":-1.34,"hi":6.68,"alo":-3.1,"ahi":8.3,"blo":-3.7,"bhi":9.4},
      {"x":1.00,"lo":-1.34,"hi":6.68,"alo":-2.7,"ahi":8.5,"blo":-3.9,"bhi":9.6},
      {"x":1.02,"lo":-1.34,"hi":6.68,"alo":-2.3,"ahi":7.9,"blo":-4.6,"bhi":10.5},
      {"x":1.04,"lo":-1.35,"hi":6.67,"alo":-3.0,"ahi":8.6,"blo":-4.2,"bhi":9.9},
      {"x":1.06,"lo":-1.36,"hi":6.66,"alo":-2.5,"ahi":7.9,"blo":-5.0,"bhi":10.7},
      {"x":1.08,"lo":-1.37,"hi":6.65,"alo":-2.7,"ahi":8.2,"blo":-4.1,"bhi":9.5},
      {"x":1.10,"lo":-1.39,"hi":6.63,"alo":-2.3,"ahi":7.7,"blo":-4.4,"bhi":10.2},
      {"x":1.12,"lo":-1.41,"hi":6.61,"alo":-2.9,"ahi":8.4,"blo":-5.0,"bhi":9.6},
      {"x":1.14,"lo":-1.43,"hi":6.59,"alo":-2.7,"ahi":7.9,"blo":-4.2,"bhi":10.6},
      {"x":1.16,"lo":-1.45,"hi":6.57,"alo":-2.5,"ahi":7.8,"blo":-4.8,"bhi":9.9},
      {"x":1.18,"lo":-1.47,"hi":6.55,"alo":-3.2,"ahi":8.1,"blo":-3.9,"bhi":9.2},
      {"x":1.20,"lo":-1.49,"hi":6.53,"alo":-3.0,"ahi":8.2,"blo":-4.1,"bhi":9.5},
      {"x":1.22,"lo":-1.51,"hi":6.51,"alo":-2.5,"ahi":7.6,"blo":-4.9,"bhi":10.3},
      {"x":1.24,"lo":-1.52,"hi":6.50,"alo":-3.2,"ahi":8.4,"blo":-4.5,"bhi":9.6},
      {"x":1.26,"lo":-1.54,"hi":6.48,"alo":-2.7,"ahi":7.7,"blo":-5.2,"bhi":10.5},
      {"x":1.28,"lo":-1.56,"hi":6.46,"alo":-3.0,"ahi":7.9,"blo":-4.3,"bhi":9.2},
      {"x":1.30,"lo":-1.59,"hi":6.43,"alo":-2.5,"ahi":7.4,"blo":-4.7,"bhi":9.8},
      {"x":1.32,"lo":-1.61,"hi":6.41,"alo":-3.2,"ahi":8.1,"blo":-5.3,"bhi":9.4},
      {"x":1.34,"lo":-1.64,"hi":6.38,"alo":-3.0,"ahi":7.7,"blo":-4.5,"bhi":10.1},
      {"x":1.36,"lo":-1.67,"hi":6.35,"alo":-2.8,"ahi":7.4,"blo":-5.1,"bhi":9.6},
      {"x":1.38,"lo":-1.69,"hi":6.33,"alo":-3.5,"ahi":7.8,"blo":-4.2,"bhi":8.8},
      {"x":1.40,"lo":-1.71,"hi":6.31,"alo":-3.3,"ahi":7.9,"blo":-4.4,"bhi":9.1},
      {"x":1.42,"lo":-1.74,"hi":6.28,"alo":-2.8,"ahi":7.3,"blo":-5.3,"bhi":9.8},
      {"x":1.44,"lo":-1.76,"hi":6.26,"alo":-3.5,"ahi":8.0,"blo":-4.7,"bhi":9.3},
      {"x":1.46,"lo":-1.78,"hi":6.24,"alo":-3.0,"ahi":7.4,"blo":-5.6,"bhi":9.9},
      {"x":1.48,"lo":-1.80,"hi":6.22,"alo":-3.3,"ahi":7.5,"blo":-4.6,"bhi":8.8},
      {"x":1.50,"lo":-1.81,"hi":6.21,"alo":-2.8,"ahi":7.2,"blo":-5.1,"bhi":9.4},
      {"x":1.52,"lo":-1.83,"hi":6.19,"alo":-3.5,"ahi":7.8,"blo":-5.5,"bhi":8.8},
      {"x":1.54,"lo":-1.84,"hi":6.18,"alo":-3.2,"ahi":7.4,"blo":-4.8,"bhi":9.8},
      {"x":1.56,"lo":-1.86,"hi":6.16,"alo":-3.0,"ahi":7.2,"blo":-5.3,"bhi":9.0},
      {"x":1.58,"lo":-1.87,"hi":6.15,"alo":-3.8,"ahi":7.5,"blo":-4.6,"bhi":8.5},
      {"x":1.60,"lo":-1.88,"hi":6.14,"alo":-3.4,"ahi":7.7,"blo":-4.6,"bhi":8.6},
      {"x":1.62,"lo":-1.89,"hi":6.13,"alo":-3.0,"ahi":7.1,"blo":-5.5,"bhi":9.5},
      {"x":1.64,"lo":-1.90,"hi":6.12,"alo":-3.7,"ahi":7.8,"blo":-5.0,"bhi":8.8},
      {"x":1.66,"lo":-1.91,"hi":6.11,"alo":-3.2,"ahi":7.2,"blo":-5.9,"bhi":9.7},
      {"x":1.68,"lo":-1.92,"hi":6.10,"alo":-3.4,"ahi":7.4,"blo":-4.8,"bhi":8.4},
      {"x":1.70,"lo":-1.93,"hi":6.09,"alo":-2.9,"ahi":6.9,"blo":-5.3,"bhi":9.0},
      {"x":1.72,"lo":-1.94,"hi":6.08,"alo":-3.6,"ahi":7.7,"blo":-5.8,"bhi":8.6},
      {"x":1.74,"lo":-1.95,"hi":6.07,"alo":-3.4,"ahi":7.2,"blo":-5.0,"bhi":9.4},
      {"x":1.76,"lo":-1.97,"hi":6.05,"alo":-3.2,"ahi":7.0,"blo":-5.6,"bhi":8.7},
      {"x":1.78,"lo":-1.99,"hi":6.03,"alo":-3.9,"ahi":7.4,"blo":-4.7,"bhi":8.2},
      {"x":1.80,"lo":-2.01,"hi":6.01,"alo":-3.6,"ahi":7.4,"blo":-4.9,"bhi":8.2},
      {"x":1.82,"lo":-2.03,"hi":5.99,"alo":-3.2,"ahi":6.9,"blo":-5.7,"bhi":9.2},
      {"x":1.84,"lo":-2.05,"hi":5.97,"alo":-3.9,"ahi":7.6,"blo":-5.3,"bhi":8.5},
      {"x":1.86,"lo":-2.07,"hi":5.95,"alo":-3.4,"ahi":6.9,"blo":-6.0,"bhi":9.2},
      {"x":1.88,"lo":-2.09,"hi":5.93,"alo":-3.6,"ahi":7.2,"blo":-5.1,"bhi":8.1},
      {"x":1.90,"lo":-2.11,"hi":5.91,"alo":-3.2,"ahi":6.7,"blo":-5.5,"bhi":8.7},
      {"x":1.92,"lo":-2.13,"hi":5.89,"alo":-3.9,"ahi":7.4,"blo":-6.1,"bhi":8.1},
      {"x":1.94,"lo":-2.15,"hi":5.87,"alo":-3.6,"ahi":6.9,"blo":-5.2,"bhi":9.1},
      {"x":1.96,"lo":-2.17,"hi":5.85,"alo":-3.4,"ahi":6.8,"blo":-5.8,"bhi":8.3},
      {"x":1.98,"lo":-2.19,"hi":5.83,"alo":-4.2,"ahi":7.1,"blo":-5.4,"bhi":7.8},
      {"x":2.00,"lo":-2.21,"hi":5.81,"alo":-3.9,"ahi":7.2,"blo":-5.2,"bhi":7.9}
    ],
    "bandBC": [
      {"x":0.00,"lo":-1.20,"hi":1.25},{"x":0.01,"lo":-1.09,"hi":1.48},{"x":0.02,"lo":-1.11,"hi":1.38},{"x":0.03,"lo":-0.95,"hi":1.56},
      {"x":0.04,"lo":-1.01,"hi":1.80},{"x":0.05,"lo":-0.81,"hi":1.66},{"x":0.06,"lo":-0.68,"hi":1.83},{"x":0.07,"lo":-0.69,"hi":1.76},
      {"x":0.08,"lo":-0.54,"hi":2.16},{"x":0.09,"lo":-0.63,"hi":2.02},{"x":0.10,"lo":-0.40,"hi":2.05},{"x":0.11,"lo":-0.36,"hi":2.25},
      {"x":0.12,"lo":-0.22,"hi":2.39},{"x":0.13,"lo":-0.26,"hi":2.27},{"x":0.14,"lo":-0.08,"hi":2.43},{"x":0.15,"lo":-0.06,"hi":2.76},
      {"x":0.16,"lo":0.10,"hi":2.49},{"x":0.17,"lo":0.02,"hi":2.67},{"x":0.18,"lo":0.21,"hi":2.81},{"x":0.19,"lo":0.22,"hi":2.75},
      {"x":0.20,"lo":0.38,"hi":3.02},{"x":0.21,"lo":0.29,"hi":2.85},{"x":0.22,"lo":0.49,"hi":3.06},{"x":0.23,"lo":0.61,"hi":3.28},
      {"x":0.24,"lo":0.58,"hi":3.13},{"x":0.25,"lo":0.73,"hi":3.24},{"x":0.26,"lo":0.76,"hi":3.41},{"x":0.27,"lo":0.76,"hi":3.30},
      {"x":0.28,"lo":0.96,"hi":3.67},{"x":0.29,"lo":0.97,"hi":3.49},{"x":0.30,"lo":1.01,"hi":3.52},{"x":0.31,"lo":1.14,"hi":3.71},
      {"x":0.32,"lo":1.07,"hi":3.61},{"x":0.33,"lo":1.25,"hi":3.92},{"x":0.34,"lo":1.27,"hi":3.82},{"x":0.35,"lo":1.42,"hi":3.83},
      {"x":0.36,"lo":1.36,"hi":4.05},{"x":0.37,"lo":1.51,"hi":4.03},{"x":0.38,"lo":1.53,"hi":4.32},{"x":0.39,"lo":1.48,"hi":4.04},
      {"x":0.40,"lo":1.70,"hi":4.24},{"x":0.41,"lo":1.71,"hi":4.21},{"x":0.42,"lo":1.72,"hi":4.43},{"x":0.43,"lo":1.85,"hi":4.24},
      {"x":0.44,"lo":1.79,"hi":4.43},{"x":0.45,"lo":1.93,"hi":4.62},{"x":0.46,"lo":2.01,"hi":4.45},{"x":0.47,"lo":1.99,"hi":4.55},
      {"x":0.48,"lo":1.97,"hi":4.68},{"x":0.49,"lo":2.13,"hi":4.56},{"x":0.50,"lo":2.15,"hi":4.90},{"x":0.51,"lo":2.25,"hi":4.70},
      {"x":0.52,"lo":2.18,"hi":4.81},{"x":0.53,"lo":2.29,"hi":4.71},{"x":0.54,"lo":2.18,"hi":4.97},{"x":0.55,"lo":2.39,"hi":4.88},
      {"x":0.56,"lo":2.37,"hi":4.86},{"x":0.57,"lo":2.46,"hi":5.23},{"x":0.58,"lo":2.41,"hi":5.00},{"x":0.59,"lo":2.50,"hi":4.95},
      {"x":0.60,"lo":2.44,"hi":5.12},{"x":0.61,"lo":2.58,"hi":5.24},{"x":0.62,"lo":2.56,"hi":5.01},{"x":0.63,"lo":2.65,"hi":5.15},
      {"x":0.64,"lo":2.51,"hi":5.25},{"x":0.65,"lo":2.66,"hi":5.13},{"x":0.66,"lo":2.63,"hi":5.42},{"x":0.67,"lo":2.72,"hi":5.15},
      {"x":0.68,"lo":2.64,"hi":5.28},{"x":0.69,"lo":2.73,"hi":5.23},{"x":0.70,"lo":2.57,"hi":5.40},{"x":0.71,"lo":2.77,"hi":5.17},
      {"x":0.72,"lo":2.74,"hi":5.32},{"x":0.73,"lo":2.82,"hi":5.49},{"x":0.74,"lo":2.71,"hi":5.26},{"x":0.75,"lo":2.80,"hi":5.31},
      {"x":0.76,"lo":2.79,"hi":5.43},{"x":0.77,"lo":2.75,"hi":5.25},{"x":0.78,"lo":2.83,"hi":5.58},{"x":0.79,"lo":2.70,"hi":5.29},
      {"x":0.80,"lo":2.80,"hi":5.36},{"x":0.81,"lo":2.56,"hi":5.21},{"x":0.82,"lo":2.81,"hi":5.40},{"x":0.83,"lo":2.75,"hi":5.29},
      {"x":0.84,"lo":2.81,"hi":5.46},{"x":0.85,"lo":2.70,"hi":5.21},{"x":0.86,"lo":2.74,"hi":5.29},{"x":0.87,"lo":2.75,"hi":5.38},
      {"x":0.88,"lo":2.62,"hi":5.19},{"x":0.89,"lo":2.74,"hi":5.29},{"x":0.90,"lo":2.66,"hi":5.43},{"x":0.91,"lo":2.68,"hi":5.16},
      {"x":0.92,"lo":2.60,"hi":5.19},{"x":0.93,"lo":2.65,"hi":5.05},{"x":0.94,"lo":2.48,"hi":5.26},{"x":0.95,"lo":2.60,"hi":5.09},
      {"x":0.96,"lo":2.54,"hi":5.13},{"x":0.97,"lo":2.57,"hi":5.29},{"x":0.98,"lo":2.42,"hi":4.95},{"x":0.99,"lo":2.47,"hi":5.01},
      {"x":1.00,"lo":2.40,"hi":5.05},{"x":1.01,"lo":2.43,"hi":4.83},{"x":1.02,"lo":2.27,"hi":5.04},{"x":1.03,"lo":2.34,"hi":4.82},
      {"x":1.04,"lo":2.26,"hi":4.84},{"x":1.05,"lo":2.29,"hi":4.71},{"x":1.06,"lo":2.14,"hi":4.92},{"x":1.07,"lo":2.17,"hi":4.69},
      {"x":1.08,"lo":1.98,"hi":4.57},{"x":1.09,"lo":2.10,"hi":4.67},{"x":1.10,"lo":2.01,"hi":4.69},{"x":1.11,"lo":2.02,"hi":4.46},
      {"x":1.12,"lo":1.88,"hi":4.48},{"x":1.13,"lo":1.90,"hi":4.67},{"x":1.14,"lo":1.80,"hi":4.26},{"x":1.15,"lo":1.69,"hi":4.34},
      {"x":1.16,"lo":1.77,"hi":4.35},{"x":1.17,"lo":1.66,"hi":4.15},{"x":1.18,"lo":1.50,"hi":4.13},{"x":1.19,"lo":1.58,"hi":4.25},
      {"x":1.20,"lo":1.47,"hi":3.95},{"x":1.21,"lo":1.44,"hi":4.02},{"x":1.22,"lo":1.19,"hi":3.91},{"x":1.23,"lo":1.35,"hi":4.06},
      {"x":1.24,"lo":1.21,"hi":3.72},{"x":1.25,"lo":1.20,"hi":3.79},{"x":1.26,"lo":1.11,"hi":3.62},{"x":1.27,"lo":0.98,"hi":3.73},
      {"x":1.28,"lo":1.03,"hi":3.43},{"x":1.29,"lo":0.89,"hi":3.48},{"x":1.30,"lo":0.86,"hi":3.49},{"x":1.31,"lo":0.69,"hi":3.26},
      {"x":1.32,"lo":0.74,"hi":3.24},{"x":1.33,"lo":0.62,"hi":3.35},{"x":1.34,"lo":0.62,"hi":3.02},{"x":1.35,"lo":0.44,"hi":3.08},
      {"x":1.36,"lo":0.43,"hi":2.94},{"x":1.37,"lo":0.37,"hi":3.01},{"x":1.38,"lo":0.16,"hi":2.71},{"x":1.39,"lo":0.24,"hi":2.76},
      {"x":1.40,"lo":0.11,"hi":2.89},{"x":1.41,"lo":0.06,"hi":2.54},{"x":1.42,"lo":-0.07,"hi":2.58},{"x":1.43,"lo":-0.06,"hi":2.36},
      {"x":1.44,"lo":-0.26,"hi":2.47},{"x":1.45,"lo":-0.23,"hi":2.27},{"x":1.46,"lo":-0.36,"hi":2.24},{"x":1.47,"lo":-0.36,"hi":2.40},
      {"x":1.48,"lo":-0.56,"hi":1.98},{"x":1.49,"lo":-0.56,"hi":1.97},{"x":1.50,"lo":-0.66,"hi":1.97},{"x":1.51,"lo":-0.69,"hi":1.71},
      {"x":1.52,"lo":-0.90,"hi":1.89},{"x":1.53,"lo":-0.86,"hi":1.62},{"x":1.54,"lo":-1.00,"hi":1.60},{"x":1.55,"lo":-1.01,"hi":1.44},
      {"x":1.56,"lo":-1.14,"hi":1.61},{"x":1.57,"lo":-1.19,"hi":1.33},{"x":1.58,"lo":-1.41,"hi":1.17},{"x":1.59,"lo":-1.32,"hi":1.23},
      {"x":1.60,"lo":-1.44,"hi":1.22},{"x":1.61,"lo":-1.57,"hi":0.97},{"x":1.62,"lo":-1.58,"hi":0.95},{"x":1.63,"lo":-1.70,"hi":1.09},
      {"x":1.64,"lo":-1.71,"hi":0.67},{"x":1.65,"lo":-1.92,"hi":0.76},{"x":1.66,"lo":-1.91,"hi":0.60},{"x":1.67,"lo":-2.01,"hi":0.67},
      {"x":1.68,"lo":-2.04,"hi":0.38},{"x":1.69,"lo":-2.27,"hi":0.40},{"x":1.70,"lo":-2.21,"hi":0.27},{"x":1.71,"lo":-2.34,"hi":0.40},
      {"x":1.72,"lo":-2.36,"hi":0.05},{"x":1.73,"lo":-2.52,"hi":0.12},{"x":1.74,"lo":-2.53,"hi":0.09},{"x":1.75,"lo":-2.63,"hi":-0.13},
      {"x":1.76,"lo":-2.64,"hi":-0.15},{"x":1.77,"lo":-2.85,"hi":0.03},{"x":1.78,"lo":-2.82,"hi":-0.39},{"x":1.79,"lo":-2.94,"hi":-0.34},
      {"x":1.80,"lo":-2.94,"hi":-0.33},{"x":1.81,"lo":-3.12,"hi":-0.56},{"x":1.82,"lo":-3.11,"hi":-0.59},{"x":1.83,"lo":-3.20,"hi":-0.47},
      {"x":1.84,"lo":-3.23,"hi":-0.83},{"x":1.85,"lo":-3.45,"hi":-0.73},{"x":1.86,"lo":-3.38,"hi":-0.89},{"x":1.87,"lo":-3.48,"hi":-0.78},
      {"x":1.88,"lo":-3.49,"hi":-1.07},{"x":1.89,"lo":-3.64,"hi":-1.04},{"x":1.90,"lo":-3.65,"hi":-0.90},{"x":1.91,"lo":-3.75,"hi":-1.24},
      {"x":1.92,"lo":-3.75,"hi":-1.19},{"x":1.93,"lo":-3.92,"hi":-1.32},{"x":1.94,"lo":-3.90,"hi":-1.24},{"x":1.95,"lo":-3.92,"hi":-1.52},
      {"x":1.96,"lo":-4.06,"hi":-1.45},{"x":1.97,"lo":-4.07,"hi":-1.38},{"x":1.98,"lo":-4.15,"hi":-1.64},{"x":1.99,"lo":-4.15,"hi":-1.64},
      {"x":2.00,"lo":-4.25,"hi":-1.63}
    ]
  },
  "resolve": {"scale": {"color": "independent", "shape": "independent"}, "legend": {"color": "independent", "shape": "independent"}},
  "vconcat": [
    {
      "width": 480, "height": 207,
      "title": {"text": "(a)"},
      "layer": [
        {
          "data": {"name": "bandA"},
          "mark": {"type": "area", "color": "#c0c0c0", "opacity": 0.12, "clip": true},
          "encoding": {
            "x": {"field": "x", "type": "quantitative", "title": "x", "scale": {"domain": [0, 2], "nice": false}, "axis": {"values": [0, 0.25, 0.5, 0.75, 1, 1.25, 1.5, 1.75, 2], "format": ".2f", "labelOverlap": false}},
            "y": {"field": "blo", "type": "quantitative", "title": "f(x)", "scale": {"domain": [-7.5, 10], "nice": false, "zero": false}, "axis": {"values": [-5, 0, 5, 10], "labelOverlap": false}},
            "y2": {"field": "bhi"}
          }
        },
        {
          "data": {"name": "bandA"},
          "mark": {"type": "area", "color": "#c0c0c0", "opacity": 0.22, "clip": true},
          "encoding": {
            "x": {"field": "x", "type": "quantitative", "title": "x", "scale": {"domain": [0, 2], "nice": false}, "axis": {"values": [0, 0.25, 0.5, 0.75, 1, 1.25, 1.5, 1.75, 2], "format": ".2f", "labelOverlap": false}},
            "y": {"field": "alo", "type": "quantitative", "title": "f(x)", "scale": {"domain": [-7.5, 10], "nice": false, "zero": false}, "axis": {"values": [-5, 0, 5, 10], "labelOverlap": false}},
            "y2": {"field": "ahi"}
          }
        },
        {
          "data": {"name": "bandA"},
          "mark": {"type": "area", "opacity": 1, "clip": true},
          "encoding": {
            "x": {"field": "x", "type": "quantitative", "title": "x", "scale": {"domain": [0, 2], "nice": false}, "axis": {"values": [0, 0.25, 0.5, 0.75, 1, 1.25, 1.5, 1.75, 2], "format": ".2f", "labelOverlap": false}},
            "y": {"field": "lo", "type": "quantitative", "title": "f(x)", "scale": {"domain": [-7.5, 10], "nice": false, "zero": false}, "axis": {"values": [-5, 0, 5, 10], "labelOverlap": false}},
            "y2": {"field": "hi"},
            "color": {"datum": "Maclaurin Series of Degree 3", "scale": {"domain": ["Sampled data", "Maclaurin Series of Degree 3"], "range": ["black", "#c0c0c0"]}, "legend": {"legendX": 118, "legendY": 151}}
          }
        },
        {
          "data": {"name": "pts"},
          "mark": {"type": "point", "filled": true, "size": 12, "opacity": 1, "clip": true},
          "encoding": {
            "x": {"field": "x", "type": "quantitative", "title": "x", "scale": {"domain": [0, 2], "nice": false}, "axis": {"values": [0, 0.25, 0.5, 0.75, 1, 1.25, 1.5, 1.75, 2], "format": ".2f", "labelOverlap": false}},
            "y": {"field": "y", "type": "quantitative", "title": "f(x)", "scale": {"domain": [-7.5, 10], "nice": false, "zero": false}, "axis": {"values": [-5, 0, 5, 10], "labelOverlap": false}},
            "color": {"datum": "Sampled data", "scale": {"domain": ["Sampled data", "Maclaurin Series of Degree 3"], "range": ["black", "#c0c0c0"]}, "legend": {"legendX": 118, "legendY": 151}},
            "shape": {"datum": "Sampled data", "scale": {"domain": ["Sampled data", "Maclaurin Series of Degree 3"], "range": ["circle", "M-8.25,-0.375H8.25V0.375H-8.25Z"]}, "legend": {"legendX": 118, "legendY": 151}}
          }
        }
      ]
    },
    {
      "width": 480, "height": 207,
      "title": {"text": "(b)"},
      "layer": [
        {
          "data": {"name": "bandBC"},
          "mark": {"type": "area", "opacity": 1, "clip": true},
          "encoding": {
            "x": {"field": "x", "type": "quantitative", "title": "x", "scale": {"domain": [0, 2], "nice": false}, "axis": {"values": [0, 0.25, 0.5, 0.75, 1, 1.25, 1.5, 1.75, 2], "format": ".2f", "labelOverlap": false}},
            "y": {"field": "lo", "type": "quantitative", "title": "f(x)", "scale": {"domain": [-6, 6], "nice": false, "zero": false}, "axis": {"values": [-6, -4, -2, 0, 2, 4, 6], "labelOverlap": false}},
            "y2": {"field": "hi"},
            "color": {"datum": "Maclaurin Series of Degree 5", "scale": {"domain": ["Sampled data", "Maclaurin Series of Degree 5"], "range": ["black", "#c0c0c0"]}, "legend": {"legendX": 8, "legendY": 150}}
          }
        },
        {
          "data": {"name": "pts"},
          "mark": {"type": "point", "filled": true, "size": 12, "opacity": 1, "clip": true},
          "encoding": {
            "x": {"field": "x", "type": "quantitative", "title": "x", "scale": {"domain": [0, 2], "nice": false}, "axis": {"values": [0, 0.25, 0.5, 0.75, 1, 1.25, 1.5, 1.75, 2], "format": ".2f", "labelOverlap": false}},
            "y": {"field": "y", "type": "quantitative", "title": "f(x)", "scale": {"domain": [-6, 6], "nice": false, "zero": false}, "axis": {"values": [-6, -4, -2, 0, 2, 4, 6], "labelOverlap": false}},
            "color": {"datum": "Sampled data", "scale": {"domain": ["Sampled data", "Maclaurin Series of Degree 5"], "range": ["black", "#c0c0c0"]}, "legend": {"legendX": 8, "legendY": 150}},
            "shape": {"datum": "Sampled data", "scale": {"domain": ["Sampled data", "Maclaurin Series of Degree 5"], "range": ["circle", "M-8.25,-0.375H8.25V0.375H-8.25Z"]}, "legend": {"legendX": 8, "legendY": 150}}
          }
        }
      ]
    },
    {
      "width": 480, "height": 207,
      "title": {"text": "(c)"},
      "layer": [
        {
          "data": {"name": "bandBC"},
          "mark": {"type": "area", "opacity": 1, "clip": true},
          "encoding": {
            "x": {"field": "x", "type": "quantitative", "title": "x", "scale": {"domain": [0, 2], "nice": false}, "axis": {"values": [0, 0.25, 0.5, 0.75, 1, 1.25, 1.5, 1.75, 2], "format": ".2f", "labelOverlap": false}},
            "y": {"field": "lo", "type": "quantitative", "title": "f(x)", "scale": {"domain": [-6, 6], "nice": false, "zero": false}, "axis": {"values": [-6, -4, -2, 0, 2, 4, 6], "labelOverlap": false}},
            "y2": {"field": "hi"},
            "color": {"datum": "Sin(x)", "scale": {"domain": ["Sin(x)", "Sampled data"], "range": ["#c0c0c0", "black"]}, "legend": {"legendX": 8, "legendY": 151, "labelFontStyle": {"expr": "datum.value === 'Sin(x)' ? 'italic' : 'normal'"}}}
          }
        },
        {
          "data": {"name": "pts"},
          "mark": {"type": "point", "filled": true, "size": 12, "opacity": 1, "clip": true},
          "encoding": {
            "x": {"field": "x", "type": "quantitative", "title": "x", "scale": {"domain": [0, 2], "nice": false}, "axis": {"values": [0, 0.25, 0.5, 0.75, 1, 1.25, 1.5, 1.75, 2], "format": ".2f", "labelOverlap": false}},
            "y": {"field": "y", "type": "quantitative", "title": "f(x)", "scale": {"domain": [-6, 6], "nice": false, "zero": false}, "axis": {"values": [-6, -4, -2, 0, 2, 4, 6], "labelOverlap": false}},
            "color": {"datum": "Sampled data", "scale": {"domain": ["Sin(x)", "Sampled data"], "range": ["#c0c0c0", "black"]}, "legend": {"legendX": 8, "legendY": 151, "labelFontStyle": {"expr": "datum.value === 'Sin(x)' ? 'italic' : 'normal'"}}},
            "shape": {"datum": "Sampled data", "scale": {"domain": ["Sin(x)", "Sampled data"], "range": ["M-8.25,-0.375H8.25V0.375H-8.25Z", "circle"]}, "legend": {"legendX": 8, "legendY": 151, "labelFontStyle": {"expr": "datum.value === 'Sin(x)' ? 'italic' : 'normal'"}}}
          }
        }
      ]
    }
  ]
}
